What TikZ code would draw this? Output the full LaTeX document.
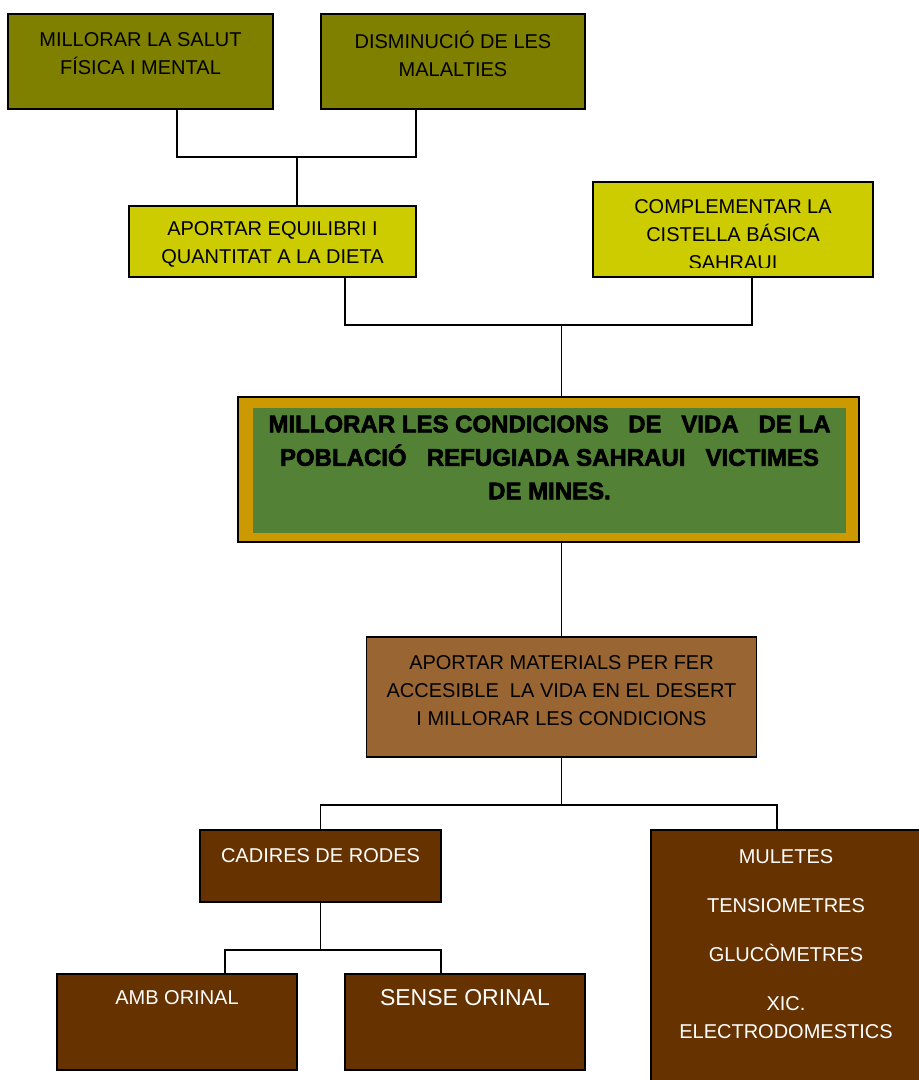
\documentclass[tikz,border=0pt]{standalone}
\usepackage{fontspec}
\setmainfont{Liberation Sans}
\newfontfamily\heavyfont{Liberation Sans}[FakeBold=2.5]
\usetikzlibrary{positioning}
\definecolor{olivebox}{HTML}{808000}
\definecolor{yellowbox}{HTML}{CCCC00}
\definecolor{goldframe}{HTML}{CC9900}
\definecolor{greenbox}{HTML}{538135}
\definecolor{brownbox}{HTML}{996633}
\definecolor{darkbox}{HTML}{663300}
\tikzset{
    boxo/.style = {rectangle, draw=black, line width=1.6pt, fill=olivebox},
    boxy/.style = {rectangle, draw=black, line width=1.6pt, fill=yellowbox},
    boxgold/.style = {rectangle, draw=black, line width=1.2pt, fill=goldframe},
    boxg/.style = {rectangle, fill=greenbox},
    boxb/.style = {rectangle, draw=black, line width=1.6pt, fill=brownbox},
    boxd/.style = {rectangle, draw=black, line width=1.6pt, fill=darkbox},
    txtb/.style = {align=center, text=black, font=\fontsize{20}{28}\selectfont},
    txtw/.style = {align=center, text=white, font=\fontsize{20}{28}\selectfont},
    txth/.style = {align=center, text=black, font=\heavyfont\bfseries\fontsize{24}{33.5}\selectfont},
    edgen/.style = {-, line width=1.7pt, black}
}

\begin{document}
\begin{tikzpicture}[x=1pt, y=-1pt]
  \useasboundingbox (0,0) rectangle (919,1080);
  % top
  \node (b1) at (140.5,61.5) [boxo, minimum width=265, minimum height=95,
    label={[txtb,yshift=8]center:MILLORAR LA SALUT\\FÍSICA I MENTAL}] {};
  \node (b2) at (453,61.5) [boxo, minimum width=264, minimum height=95,
    label={[txtb,yshift=8]center:DISMINUCIÓ DE LES\\MALALTIES}] {};
  \node (b3) at (272.5,241.5) [boxy, minimum width=287, minimum height=71,
    label={[txtb,yshift=-3]center:APORTAR EQUILIBRI I\\QUANTITAT A LA DIETA}] {};
  \node (b4) at (733,229.5) [boxy, minimum width=280, minimum height=95,
    path picture={
      \clip (path picture bounding box.north west) rectangle ([yshift=10]path picture bounding box.south east);
      \node[txtb] at ([yshift=-5]path picture bounding box.center) {COMPLEMENTAR LA\\CISTELLA BÁSICA\\SAHRAUI};
    }] {};
  % main
  \node (main) at (548.5,469.5) [boxgold, minimum width=621, minimum height=145] {};
  \node (mainin) at (549.5,470.5) [boxg, minimum width=593, minimum height=125,
    label={[txth,yshift=13]center:\makebox[562pt][s]{MILLORAR LES CONDICIONS\hfill DE\hfill VIDA\hfill DE LA}\\
      \makebox[539pt][s]{POBLACIÓ\hfill REFUGIADA SAHRAUI\hfill VICTIMES}\\DE MINES.}] {};
  % bottom
  \node (b6) at (561.5,697) [boxb, minimum width=390, minimum height=120,
    label={[txtb,yshift=6]center:APORTAR MATERIALS PER FER\\ACCESIBLE\ \ LA VIDA EN EL DESERT\\I MILLORAR LES CONDICIONS}] {};
  \node (b7) at (320.5,866) [boxd, minimum width=241, minimum height=72,
    label={[txtw,yshift=10]center:CADIRES DE RODES}] {};
  \node (b8) at (786,956) [boxd, minimum width=270, minimum height=252,
    label={[txtw,yshift=12]center:MULETES\\[21pt]TENSIOMETRES\\[21pt]GLUCÒMETRES\\[21pt]XIC.\\ELECTRODOMESTICS}] {};
  \node (b9) at (177,1022) [boxd, minimum width=240, minimum height=96,
    label={[txtw,yshift=24]center:AMB ORINAL}] {};
  \node (b10) at (465,1022) [boxd, minimum width=240, minimum height=96,
    label={[txtw,yshift=24,font=\fontsize{23}{28}\selectfont]center:SENSE ORINAL}] {};
  % connectors
  \coordinate (j1) at (297,157);
  \coordinate (j2) at (561.5,325);
  \coordinate (j3) at (561.5,805);
  \coordinate (j4) at (320.5,950);
  \draw[edgen] ([xshift=36.5]b1.south) |- (j1) -| ([xshift=-37]b2.south);
  \draw[edgen] (j1) -- (j1 |- b3.north);
  \draw[edgen] ([xshift=72.5]b3.south) |- (j2) -| ([xshift=19]b4.south);
  \draw[edgen] (j2) -- (j2 |- main.north);
  \draw[edgen] (b6.north) -- (b6.north |- main.south);
  \draw[edgen] (b6.south) -- (j3);
  \draw[edgen] (b7.north) |- (j3) -| ([xshift=-9]b8.north);
  \draw[edgen] (b7.south) -- (j4);
  \draw[edgen] ([xshift=48]b9.north) |- (j4) -| ([xshift=-24]b10.north);
\end{tikzpicture}
\end{document}
